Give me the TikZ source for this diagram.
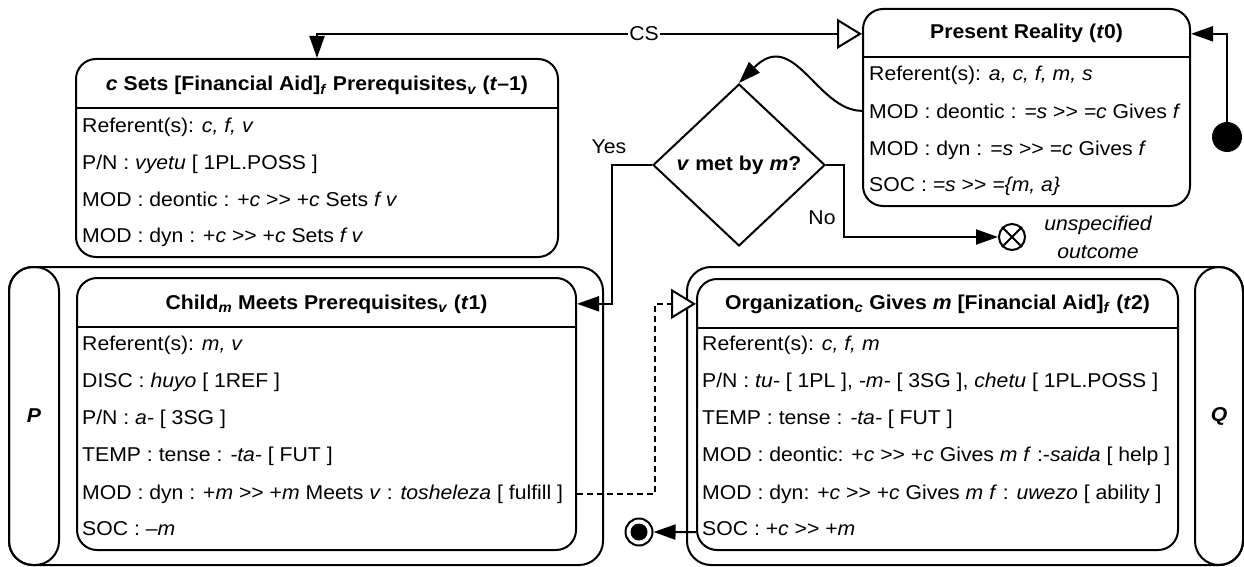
\documentclass[tikz,border=0pt]{standalone}
\usepackage{fontspec}
\setmainfont{Liberation Sans}[FakeStretch=1.06]
\usetikzlibrary{arrows.meta,shapes.geometric}

% two ">" glyphs kept apart from the TeX ligature mapping
\newcommand\dgt{>\kern0pt>}

\begin{document}
\begin{tikzpicture}[x=1pt,y=-1pt,
  every node/.style={font=\fontsize{20pt}{24pt}\selectfont},
  stroke/.style={line width=2pt},
  statebox/.style={draw, stroke, rounded corners=20pt, inner sep=0pt},
  lanebox/.style={draw, stroke, rounded corners=24pt, inner sep=0pt},
  title/.style={anchor=base, inner sep=0pt, font=\fontsize{20pt}{24pt}\selectfont\bfseries},
  row/.style={anchor=base west, inner sep=0pt},
  lbl/.style={inner sep=1pt},
  conn/.style={stroke, line cap=butt},
  solidtip/.tip={Triangle[length=22pt,width=15pt]},
  opentip/.tip={Triangle[open,length=25pt,width=30pt,fill=white]}
]
\useasboundingbox (0,0) rectangle (1244,567);

% ---------- lanes P and Q ----------
\node[lanebox, minimum width=594pt, minimum height=298pt] (laneP) at (306,416) {};
\node[lanebox, minimum width=50pt, minimum height=298pt] (pillP) at (34,416) {};
\node[font=\fontsize{20pt}{24pt}\selectfont\bfseries\itshape] (labP) at (pillP) {P};

\node[lanebox, minimum width=556pt, minimum height=298pt] (laneQ) at (965,416) {};
\node[lanebox, minimum width=48pt, minimum height=298pt] (pillQ) at (1219,416) {};
\node[font=\fontsize{20pt}{24pt}\selectfont\bfseries\itshape] (labQ) at (pillQ) {Q};

% ---------- state t-1 ----------
\node[statebox, minimum width=482pt, minimum height=198pt] (tm1) at (317,158) {};
\draw[stroke] (76,108) -- (558,108);
\node[title] (tm1T) at (317,91) {\textit{c} Sets [Financial Aid]\textsubscript{\textit{f}} Prerequisites\textsubscript{\textit{v}} (\textit{t}–1)};
\node[row] (tm1a) at (82,132) {Referent(s): \textit{c, f, v}};
\node[row] (tm1b) at (82,169) {P/N : \textit{vyetu} [ 1PL.POSS ]};
\node[row] (tm1c) at (82,206) {MOD : deontic : +\textit{c} \dgt{} +\textit{c} Sets \textit{f v}};
\node[row] (tm1d) at (82,242) {MOD : dyn : +\textit{c} \dgt{} +\textit{c} Sets \textit{f v}};

% ---------- present reality t0 ----------
\node[statebox, minimum width=327pt, minimum height=197pt] (pr) at (1026.5,107.5) {};
\draw[stroke] (863,57) -- (1190,57);
\node[title] (prT) at (1026.5,39) {Present Reality (\textit{t}0)};
\node[row] (pra) at (869,81) {Referent(s): \textit{a, c, f, m, s}};
\node[row] (prb) at (869,118) {MOD : deontic : \textit{=s} \dgt{} \textit{=c} Gives \textit{f}};
\node[row] (prc) at (869,155) {MOD : dyn : \textit{=s} \dgt{} \textit{=c} Gives \textit{f}};
\node[row] (prd) at (869,191) {SOC : \textit{=s} \dgt{} \textit{=\{m, a\}}};

% ---------- state t1 ----------
\node[statebox, minimum width=499pt, minimum height=272pt] (ch) at (326.5,414) {};
\draw[stroke] (77,327) -- (576,327);
\node[title] (chT) at (326.5,309) {Child\textsubscript{\textit{m}} Meets Prerequisites\textsubscript{\textit{v}} (\textit{t}1)};
\node[row] (cha) at (82,350) {Referent(s): \textit{m, v}};
\node[row] (chb) at (82,387) {DISC : \textit{huyo} [ 1REF ]};
\node[row] (chc) at (82,424) {P/N : \textit{a-} [ 3SG ]};
\node[row] (chd) at (82,461) {TEMP : tense : \textit{-ta-} [ FUT ]};
\node[row] (che) at (82,499) {MOD : dyn : +\textit{m} \dgt{} +\textit{m} Meets \textit{v} : \textit{tosheleza} [ fulfill ]};
\node[row] (chf) at (82,535) {SOC : –\textit{m}};

% ---------- state t2 ----------
\node[statebox, minimum width=481pt, minimum height=271pt] (org) at (937.5,414.5) {};
\draw[stroke] (697,328) -- (1178,328);
\node[title] (orgT) at (937.5,309) {Organization\textsubscript{\textit{c}} Gives \textit{m} [Financial Aid]\textsubscript{\textit{f}} (\textit{t}2)};
\node[row] (orga) at (702,350) {Referent(s): \textit{c, f, m}};
\node[row] (orgb) at (702,387) {P/N : \textit{tu-} [ 1PL ], \textit{-m-} [ 3SG ], \textit{chetu} [ 1PL.POSS ]};
\node[row] (orgc) at (702,424) {TEMP : tense : \textit{-ta-} [ FUT ]};
\node[row] (orgd) at (702,461) {MOD : deontic: +\textit{c} \dgt{} +\textit{c} Gives \textit{m f} :-\textit{saida} [ help ]};
\node[row] (orge) at (702,499) {MOD : dyn: +\textit{c} \dgt{} +\textit{c} Gives \textit{m f} : \textit{uwezo} [ ability ]};
\node[row] (orgf) at (702,535) {SOC : +\textit{c} \dgt{} +\textit{m}};

% ---------- decision ----------
\node[diamond, draw, stroke, aspect=1.06, minimum width=172pt, minimum height=162pt, inner sep=0pt,
      font=\fontsize{20pt}{24pt}\selectfont\bfseries] (dia) at (739,165) {\textit{v} met by \textit{m}?};

% ---------- pseudo states ----------
\node[circle, fill, minimum size=30pt, inner sep=0pt] (start) at (1227,137) {};
\node[circle, draw, stroke, minimum size=26pt, inner sep=0pt] (out) at (1012,237) {};
\draw[stroke] (out.north west) -- (out.south east) (out.north east) -- (out.south west);
\node[circle, draw, stroke, fill=white, minimum size=27pt, inner sep=0pt] (fin) at (639,532) {};
\fill (fin.center) circle (8.5pt);

% ---------- labels ----------
\node[lbl, font=\fontsize{20pt}{24pt}\selectfont\itshape, align=center] (unsp) at (1098,237) {unspecified\\[4pt]outcome};
\node[lbl] (yes) at (609,147) {Yes};
\node[lbl] (no) at (822,218) {No};

% ---------- connectors ----------
\draw[conn, {solidtip}-{opentip}] (tm1.north) |- (prT -| pr.west)
  node[pos=0.8, fill=white, lbl] (cs) {CS};
\draw[conn, -{solidtip}] (start.north) |- (prT -| pr.east);
\draw[conn, -{solidtip}] (prb -| pr.west) .. controls +(-45,0) and +(55,-56) .. (dia.north);
\draw[conn, -{solidtip}] (dia.west) -- ++(-40,0) |- (chT -| ch.east);
\draw[conn, -{solidtip}] (dia.east) -- ++(18,0) |- (out.west);
\draw[conn, dash pattern=on 6pt off 4pt, -{opentip}] (che -| ch.east) -- ++(78,0) |- (orgT -| org.west);
\draw[conn, -{solidtip}] ([yshift=-4pt]orgf -| org.west) -- (fin);
\end{tikzpicture}
\end{document}
